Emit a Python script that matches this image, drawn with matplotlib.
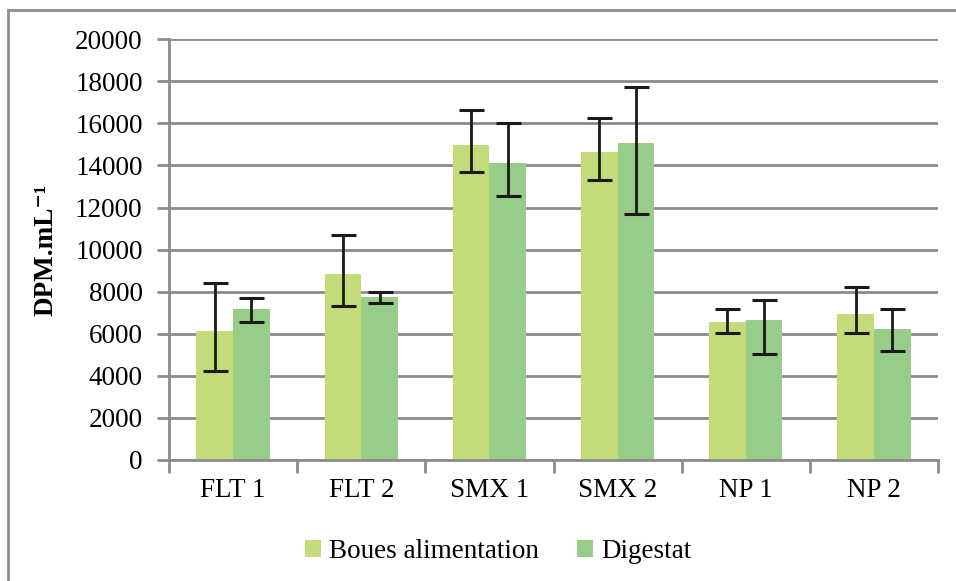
import numpy as np
import matplotlib.pyplot as plt
from matplotlib.lines import Line2D

categories = ["FLT 1", "FLT 2", "SMX 1", "SMX 2", "NP 1", "NP 2"]

boues = [6130, 8860, 14960, 14650, 6560, 6920]
boues_lo = [4250, 7300, 13710, 13330, 6020, 6020]
boues_hi = [8410, 10710, 16620, 16270, 7180, 8220]

digestat = [7200, 7760, 14100, 15060, 6640, 6220]
digestat_lo = [6560, 7460, 12540, 11700, 5050, 5180]
digestat_hi = [7700, 7970, 16000, 17710, 7600, 7190]

c_boues = "#c3db78"
c_dig = "#97cd88"
grid_c = "#8c8c8c"

plt.rcParams['font.family'] = ['Liberation Serif', 'DejaVu Serif']

fig = plt.figure(figsize=(9.56, 5.81), dpi=100)
ax = fig.add_axes([0.1768, 0.2083, 0.8044, 0.7241])

x = np.arange(len(categories))
w = 1 / 3.5

b = np.array(boues)
d = np.array(digestat)
err_b = [b - np.array(boues_lo), np.array(boues_hi) - b]
err_d = [d - np.array(digestat_lo), np.array(digestat_hi) - d]

ax.bar(x - w / 2, b, w, color=c_boues, label="Boues alimentation", zorder=2)
ax.bar(x + w / 2, d, w, color=c_dig, label="Digestat", zorder=2)
ax.errorbar(x - w / 2, b, yerr=err_b, fmt="none", ecolor="#1a1a1a",
            elinewidth=2, capsize=9, capthick=2.2, zorder=3)
ax.errorbar(x + w / 2, d, yerr=err_d, fmt="none", ecolor="#1a1a1a",
            elinewidth=2, capsize=9, capthick=2.2, zorder=3)

ax.set_xlim(-0.5, len(categories) - 0.5)
ax.set_ylim(0, 20000)
ax.set_yticks(np.arange(0, 20001, 2000))
ax.yaxis.grid(True, color=grid_c, linewidth=2)
ax.set_axisbelow(True)

# category boundary ticks, labels centred in between
ax.set_xticks(np.arange(-0.5, len(categories)), minor=False)
ax.set_xticklabels([])
ax.set_xticks(x, minor=True)
ax.set_xticklabels(categories, minor=True)
ax.tick_params(axis="x", which="major", length=9, width=2, color=grid_c, direction="out")
ax.tick_params(axis="x", which="minor", length=0, pad=13, labelsize=19.5)
ax.tick_params(axis="y", length=9, width=2, color=grid_c, direction="out", pad=10, labelsize=19.5)

for s in ["top", "right"]:
    ax.spines[s].set_visible(False)
for s in ["left", "bottom"]:
    ax.spines[s].set_color(grid_c)
    ax.spines[s].set_linewidth(2)

ax.set_ylabel("DPM.mL\u207b\u00b9", fontsize=19.5, fontweight="bold", labelpad=12)

ax.legend(loc="upper center", bbox_to_anchor=(0.428, -0.13), ncol=2, frameon=False,
          fontsize=19.5, handlelength=0.6, handleheight=0.6, handletextpad=0.3,
          columnspacing=1.4)

# outer chart border (left and top visible)
fig.add_artist(Line2D([0.0085, 0.0085], [0, 0.983], color=grid_c, linewidth=2))
fig.add_artist(Line2D([0.0085, 1], [0.983, 0.983], color=grid_c, linewidth=2))

fig.savefig("out.png", dpi=100)
